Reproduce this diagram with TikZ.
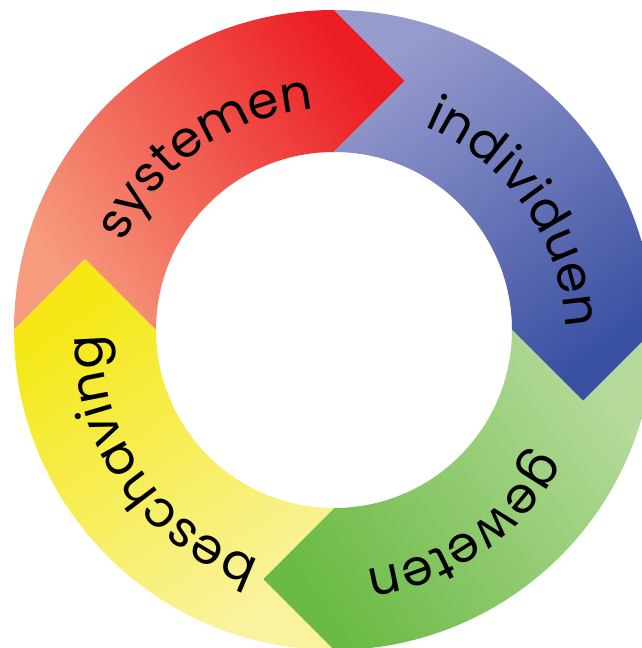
\documentclass[tikz,border=0pt]{standalone}
\usepackage{fontspec}
\usetikzlibrary{decorations.text}
\newfontfamily\poppins{Poppins}
\newcommand\ringfont{\poppins\fontsize{50}{60}\selectfont}
\tikzset{
  ringtext/.style={decorate,decoration={text along path,text align=center,text={|\ringfont|#1}}}
}

\begin{document}
\begin{tikzpicture}[x=1pt,y=1pt]
\definecolor{redpale}{RGB}{246,155,126}
\definecolor{redfull}{RGB}{236,28,36}
\definecolor{bluepale}{RGB}{150,155,205}
\definecolor{bluefull}{RGB}{58,80,162}
\definecolor{greenpale}{RGB}{182,218,155}
\definecolor{greenfull}{RGB}{106,186,68}
\definecolor{yellowpale}{RGB}{249,243,160}
\definecolor{yellowfull}{RGB}{245,232,20}
\useasboundingbox (-334,-318) rectangle (308,330);
\fill[white] (-334,-318) rectangle (308,330);
\coordinate (textc) at (0,-10);
\path[bottom color=redpale,top color=redfull,shading angle=-55] (180:320) arc[start angle=180,end angle=90,radius=320] -- (71,249) -- (90:178) arc[start angle=90,end angle=180,radius=178] -- (-249,71) -- cycle;
\begin{scope}[rotate=-90]
\path[bottom color=bluepale,top color=bluefull,shading angle=-145] (180:320) arc[start angle=180,end angle=90,radius=320] -- (71,249) -- (90:178) arc[start angle=90,end angle=180,radius=178] -- (-249,71) -- cycle;
\end{scope}
\begin{scope}[rotate=-180]
\path[bottom color=greenpale,top color=greenfull,shading angle=125] (180:320) arc[start angle=180,end angle=90,radius=320] -- (71,249) -- (90:178) arc[start angle=90,end angle=180,radius=178] -- (-249,71) -- cycle;
\end{scope}
\begin{scope}[rotate=90]
\path[bottom color=yellowpale,top color=yellowfull,shading angle=35] (180:320) arc[start angle=180,end angle=90,radius=320] -- (71,249) -- (90:178) arc[start angle=90,end angle=180,radius=178] -- (-249,71) -- cycle;
\end{scope}
\path[ringtext=systemen] (textc) ++(165:232) arc[start angle=165,end angle=85,radius=232];
\path[ringtext=individuen] (textc) ++(75:232) arc[start angle=75,end angle=-5,radius=232];
\path[ringtext=geweten] (textc) ++(-15:232) arc[start angle=-15,end angle=-95,radius=232];
\path[ringtext=beschaving] (textc) ++(255:232) arc[start angle=255,end angle=175,radius=232];
\end{tikzpicture}
\end{document}
